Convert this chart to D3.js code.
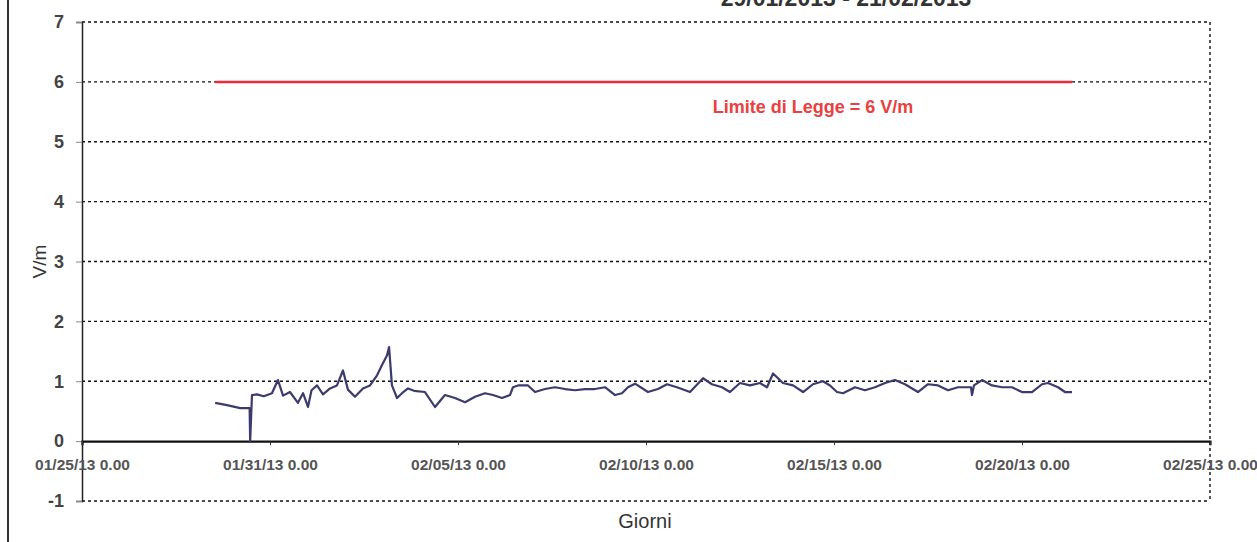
<!DOCTYPE html>
<html>
<head>
<meta charset="utf-8">
<script src="https://cdn.jsdelivr.net/npm/d3@7"></script>
<style>
body { margin: 0; background: #fff; }
svg { display: block; }
.grid line { stroke: #111; stroke-width: 1.4; stroke-dasharray: 3,3; }
.ylab { font-family: "Liberation Sans", Arial, sans-serif; font-weight: bold; font-size: 18px; fill: #444; }
.xlab { font-family: "Liberation Sans", Arial, sans-serif; font-weight: bold; font-size: 15.5px; fill: #555; }
</style>
</head>
<body>
<script>
var width = 1257,
    height = 542;

var times = [
  "01/29/13 13:00","01/29/13 20:30","01/30/13 05:00","01/30/13 11:00","01/30/13 11:20","01/30/13 12:30",
  "01/30/13 15:40","01/30/13 20:00","01/31/13 01:15","01/31/13 05:05","01/31/13 08:20","01/31/13 12:45",
  "01/31/13 17:50","01/31/13 21:05","02/01/13 00:15","02/01/13 02:30","02/01/13 06:00","02/01/13 09:50",
  "02/01/13 14:20","02/01/13 18:45","02/01/13 22:35","02/02/13 01:45","02/02/13 06:15","02/02/13 11:20",
  "02/02/13 15:50","02/02/13 20:20","02/02/13 23:30","02/03/13 02:40","02/03/13 04:00","02/03/13 05:50",
  "02/03/13 09:05","02/03/13 12:15","02/03/13 16:05","02/03/13 20:00","02/04/13 02:55","02/04/13 09:20",
  "02/04/13 15:40","02/04/13 22:05","02/05/13 04:30","02/05/13 10:50","02/05/13 17:15","02/05/13 22:20",
  "02/06/13 04:05","02/06/13 09:10","02/06/13 11:05","02/06/13 14:20","02/06/13 20:40","02/07/13 01:10",
  "02/07/13 07:30","02/07/13 13:55","02/07/13 20:20","02/08/13 02:40","02/08/13 09:05","02/08/13 15:25",
  "02/08/13 21:50","02/09/13 04:15","02/09/13 08:40","02/09/13 12:30","02/09/13 17:00","02/10/13 01:15",
  "02/10/13 07:40","02/10/13 13:25","02/10/13 19:45","02/11/13 04:05","02/11/13 12:25","02/11/13 18:05",
  "02/12/13 00:30","02/12/13 05:35","02/12/13 12:00","02/12/13 18:25","02/13/13 00:45","02/13/13 05:15",
  "02/13/13 09:05","02/13/13 15:25","02/13/13 21:50","02/14/13 04:15","02/14/13 10:35","02/14/13 17:00",
  "02/14/13 21:25","02/15/13 01:55","02/15/13 05:45","02/15/13 13:25","02/15/13 19:45","02/16/13 02:10",
  "02/16/13 08:35","02/16/13 14:55","02/16/13 21:20","02/17/13 05:35","02/17/13 12:00","02/17/13 18:25",
  "02/18/13 00:45","02/18/13 07:10","02/18/13 15:25","02/18/13 16:05","02/18/13 17:20","02/18/13 22:30",
  "02/19/13 04:50","02/19/13 11:15","02/19/13 17:35","02/20/13 00:00","02/20/13 06:25","02/20/13 12:45",
  "02/20/13 16:35","02/20/13 23:00","02/21/13 03:25","02/21/13 07:55"
];
var values = [
  0.64,0.60,0.55,0.55,0.00,0.77,
  0.78,0.75,0.80,1.02,0.76,0.82,
  0.64,0.80,0.57,0.85,0.93,0.78,
  0.88,0.93,1.18,0.86,0.74,0.88,
  0.93,1.10,1.27,1.43,1.57,0.93,
  0.72,0.80,0.88,0.84,0.82,0.57,
  0.77,0.72,0.65,0.74,0.80,0.77,
  0.72,0.77,0.90,0.93,0.93,0.82,
  0.87,0.90,0.87,0.85,0.87,0.87,
  0.90,0.77,0.80,0.90,0.96,0.82,
  0.87,0.95,0.90,0.82,1.05,0.95,
  0.90,0.82,0.97,0.93,0.97,0.90,
  1.13,0.97,0.93,0.82,0.95,1.00,
  0.93,0.82,0.80,0.90,0.85,0.90,
  0.97,1.02,0.95,0.82,0.95,0.93,
  0.85,0.90,0.90,0.77,0.93,1.02,
  0.93,0.90,0.90,0.82,0.82,0.95,
  0.97,0.90,0.82,0.82
];

var limitTimes = ["01/29/13 13:00", "02/21/13 07:55"];
var limitValue = 6;

var tickDates  = ["01/26/13 00:00","01/31/13 00:00","02/05/13 00:00","02/10/13 00:00","02/15/13 00:00","02/20/13 00:00","02/25/13 00:00"];
var tickLabels = ["01/25/13 0.00","01/31/13 0.00","02/05/13 0.00","02/10/13 0.00","02/15/13 0.00","02/20/13 0.00","02/25/13 0.00"];
var yTicks = [-1, 0, 1, 2, 3, 4, 5, 6, 7];

var parseTime = d3.timeParse("%m/%d/%y %H:%M");

var data = times.map(function(t, i) { return {t: parseTime(t), v: values[i]}; });
var ticks = tickDates.map(parseTime);

var x = d3.scaleTime()
    .domain([ticks[0], ticks[ticks.length - 1]])
    .range([82, 1210]);

var y = d3.scaleLinear()
    .domain([-1, 7])
    .range([501, 22]);

var svg = d3.select("body").append("svg")
    .attr("width", width)
    .attr("height", height);

// bordo scansione
svg.append("line")
    .attr("x1", 8).attr("x2", 8)
    .attr("y1", 0).attr("y2", height)
    .attr("stroke", "#333")
    .attr("stroke-width", 2);

// titolo (tagliato in alto)
svg.append("text")
    .attr("x", 846)
    .attr("y", 6)
    .attr("text-anchor", "middle")
    .style("font-family", "Liberation Sans, Arial, sans-serif")
    .style("font-weight", "bold")
    .style("font-size", "23px")
    .style("fill", "#333")
    .text("29/01/2013 - 21/02/2013");

// griglia tratteggiata
var grid = svg.append("g").attr("class", "grid");
grid.selectAll("line.h")
    .data(yTicks.filter(function(d) { return d !== 0; }))
    .enter().append("line")
    .attr("class", "h")
    .attr("x1", x.range()[0])
    .attr("x2", x.range()[1])
    .attr("y1", y)
    .attr("y2", y);

grid.append("line")
    .attr("x1", x.range()[1]).attr("x2", x.range()[1])
    .attr("y1", y(7)).attr("y2", y(-1));

// asse y
var yAxis = svg.append("g")
    .attr("transform", "translate(" + x.range()[0] + ",0)")
    .call(d3.axisLeft(y).tickValues(yTicks).tickSize(6).tickPadding(12)
      .tickFormat(function(d) { return String(d); }));
yAxis.select(".domain").attr("stroke", "#222").attr("stroke-width", 1.5);
yAxis.selectAll(".tick line").attr("stroke", "#888");
yAxis.selectAll("text").attr("class", "ylab").attr("font-size", null).attr("font-family", null);

// asse x sulla linea dello zero
var xAxis = svg.append("g")
    .attr("transform", "translate(0," + y(0) + ")")
    .call(d3.axisBottom(x).tickValues(ticks).tickSize(4).tickPadding(14)
      .tickFormat(function(d, i) { return tickLabels[i]; }));
xAxis.select(".domain").attr("stroke", "#111").attr("stroke-width", 2.2);
xAxis.selectAll(".tick line").attr("stroke", "#333");
xAxis.selectAll("text").attr("class", "xlab").attr("font-size", null).attr("font-family", null);

// limite di legge
var limitLine = d3.line()
    .x(function(d) { return x(parseTime(d)); })
    .y(function() { return y(limitValue); });

svg.append("path")
    .datum(limitTimes)
    .attr("fill", "none")
    .attr("stroke", "#ee2a3c")
    .attr("stroke-width", 2.5)
    .attr("d", limitLine);

svg.append("text")
    .attr("x", 813)
    .attr("y", y(limitValue) + 31)
    .attr("text-anchor", "middle")
    .style("font-family", "Liberation Sans, Arial, sans-serif")
    .style("font-weight", "bold")
    .style("font-size", "18px")
    .style("fill", "#ea4040")
    .text("Limite di Legge = " + limitValue + " V/m");

// serie misurata
var line = d3.line()
    .x(function(d) { return x(d.t); })
    .y(function(d) { return y(d.v); });

svg.append("path")
    .datum(data)
    .attr("fill", "none")
    .attr("stroke", "#3b3b6e")
    .attr("stroke-width", 2.2)
    .attr("stroke-linejoin", "round")
    .attr("d", line);

// titoli assi
svg.append("text")
    .attr("transform", "translate(46," + y(3) + ") rotate(-90)")
    .attr("text-anchor", "middle")
    .style("font-family", "Liberation Sans, Arial, sans-serif")
    .style("font-size", "19px")
    .style("fill", "#333")
    .text("V/m");

svg.append("text")
    .attr("x", 645)
    .attr("y", 528)
    .attr("text-anchor", "middle")
    .style("font-family", "Liberation Sans, Arial, sans-serif")
    .style("font-size", "20px")
    .style("fill", "#333")
    .text("Giorni");
</script>
</body>
</html>
